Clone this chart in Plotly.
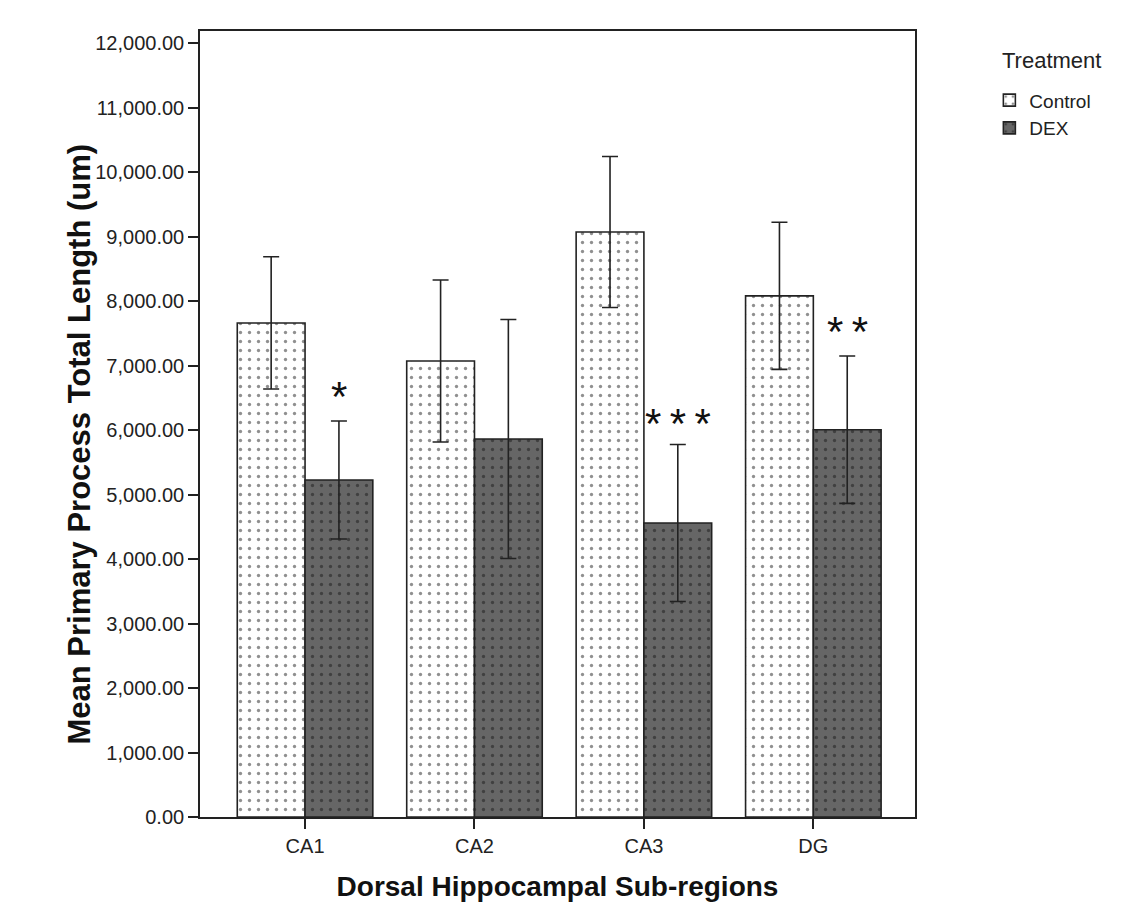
import plotly.graph_objects as go

categories = ["CA1", "CA2", "CA3", "DG"]
control_mean = [7660, 7070, 9070, 8080]
control_err = [1025, 1256, 1170, 1140]
dex_mean = [5225, 5860, 4558, 6005]
dex_err = [915, 1853, 1217, 1142]
significance = ["*", "", "*\u2009*\u2009*", "*\u2009*"]
y_ticks = list(range(0, 12001, 1000))
y_tick_labels = [f"{v:,.2f}" for v in y_ticks]

FONT = "Liberation Sans, Arial, sans-serif"
xpos = list(range(len(categories)))

fig = go.Figure()
fig.add_trace(go.Bar(
    name="Control", x=xpos, y=control_mean, offsetgroup="c",
    marker=dict(color="white", line=dict(color="#222", width=1.6),
                pattern=dict(shape=".", fgcolor="#222", bgcolor="white", size=9, solidity=0.11)),
    error_y=dict(type="data", array=control_err, color="#222", thickness=1.6, width=8),
))
fig.add_trace(go.Bar(
    name="DEX", x=xpos, y=dex_mean, offsetgroup="d",
    marker=dict(color="#666666", line=dict(color="#222", width=1.6),
                pattern=dict(shape=".", fgcolor="#1a1a1a", bgcolor="#666666", size=9, solidity=0.11)),
    error_y=dict(type="data", array=dex_err, color="#222", thickness=1.6, width=8),
))

for i, s in enumerate(significance):
    if s:
        fig.add_annotation(x=xpos[i] + 0.2, y=dex_mean[i] + dex_err[i] + (380 if i != 2 else 330),
                           text=s, showarrow=False, xref="x", yref="y",
                           font=dict(family=FONT, size=42, color="#111"))

fig.add_annotation(x=1.119, y=0.963, xref="paper", yref="paper", text="Treatment",
                   xanchor="left", yanchor="middle",
                   showarrow=False, font=dict(family=FONT, size=22, color="#222"))

fig.add_annotation(x=-0.168, y=0.475, xref="paper", yref="paper",
                   text="<b>Mean Primary Process Total Length (um)</b>", textangle=-90,
                   xanchor="center", yanchor="middle", showarrow=False,
                   font=dict(family=FONT, size=31, color="#111"))

fig.update_layout(
    width=1121, height=912,
    paper_bgcolor="white", plot_bgcolor="white",
    margin=dict(l=192, r=214, t=23, b=103),
    bargap=0.2, bargroupgap=0,
    font=dict(family=FONT, color="#222"),
    legend=dict(font=dict(size=19, family=FONT, color="#222"),
                x=1.104, y=0.936, xanchor="left", yanchor="top",
                bgcolor="rgba(0,0,0,0)", tracegroupgap=0, itemwidth=30),
    showlegend=True,
)
fig.update_xaxes(
    tickmode="array", tickvals=xpos, ticktext=categories,
    range=[-0.62, 3.6], showline=True, linecolor="#222", linewidth=1.6, mirror=True,
    ticks="outside", ticklen=10, tickwidth=1.6, tickcolor="#222",
    tickfont=dict(size=20, family=FONT, color="#222"), showgrid=False, zeroline=False,
    title=dict(text="<b>Dorsal Hippocampal Sub-regions</b>", font=dict(size=28, family=FONT, color="#111"), standoff=21),
)
fig.update_yaxes(
    tickmode="array", tickvals=y_ticks, ticktext=y_tick_labels,
    range=[0, 12186], showline=True, linecolor="#222", linewidth=1.6, mirror=True,
    ticks="outside", ticklen=10, tickwidth=1.6, tickcolor="#222",
    tickfont=dict(size=20, family=FONT, color="#222"), showgrid=False, zeroline=False,
)

fig.write_html("out.html")
